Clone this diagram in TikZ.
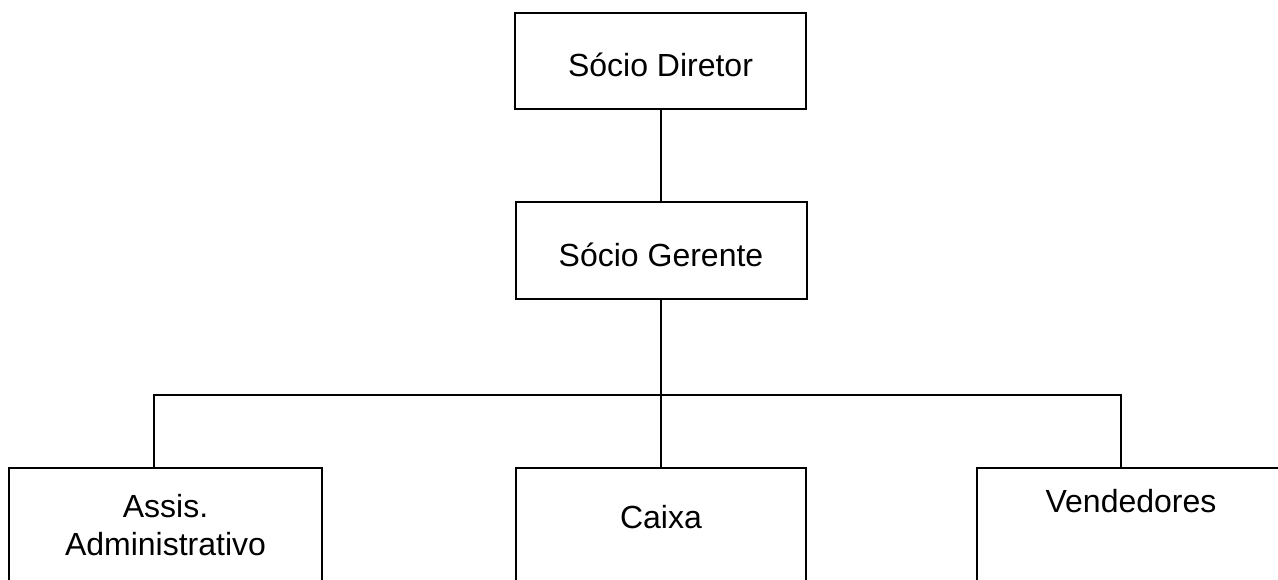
\documentclass[tikz,border=0pt]{standalone}
\usepackage{fontspec}
\setmainfont{Liberation Sans}
\begin{document}
\begin{tikzpicture}[x=1pt,y=-1pt,
  box/.style={draw=black, line width=1.6pt, fill=none, inner sep=0pt},
  lbl/.style={font=\fontsize{32}{38}\selectfont, anchor=base, inner sep=0pt, align=center},
  wire/.style={draw=black, line width=1.6pt, line join=miter}]
\useasboundingbox (0,0) rectangle (1278,580);
\clip (0,0) rectangle (1278,580);
\fill[white] (0,0) rectangle (1278,580);

% boxes
\node[box, minimum width=291pt, minimum height=96pt] (dir) at (660.5,61) {};
\node[box, minimum width=291pt, minimum height=97pt] (ger) at (661.5,250.5) {};
\node[box, minimum width=313pt, minimum height=240pt, anchor=north] (assis) at (165.5,467) {};
\node[box, minimum width=290pt, minimum height=240pt, anchor=north] (caixa) at (661,467) {};
\node[box, minimum width=308pt, minimum height=240pt, anchor=north] (vend) at (1131,467) {};

% labels
\node[lbl] (tdir) at (660.5,77) {Sócio Diretor};
\node[lbl] (tger) at (661,267) {Sócio Gerente};
\node[lbl] (tassis1) at (165.5,517) {Assis.};
\node[lbl] (tassis2) at (165.5,555) {Administrativo};
\node[lbl] (tcaixa) at (661,528) {Caixa};
\node[lbl] (tvend) at (1131,512) {Vendedores};

% connectors
\coordinate (busL) at (154,395);
\coordinate (busM) at (661,395);
\coordinate (busR) at (1121,395);
\draw[wire] (dir.south -| busM) -- (ger.north -| busM);
\draw[wire] (ger.south -| busM) -- (caixa.north -| busM);
\draw[wire] (busL |- assis.north) -- (busL) -- (busR) -- (busR |- vend.north);
\end{tikzpicture}
\end{document}
